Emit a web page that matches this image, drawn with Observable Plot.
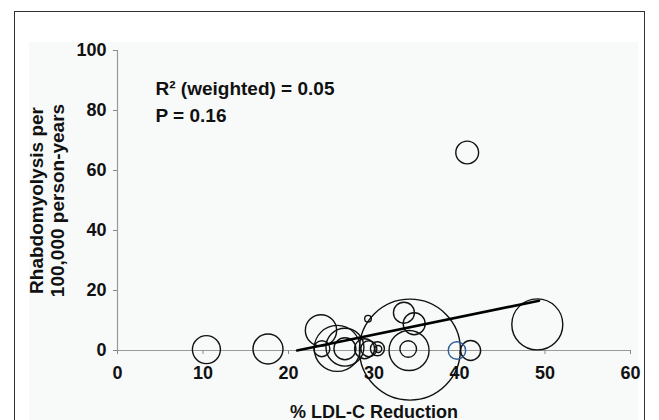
<!DOCTYPE html>
<html>
<head>
<meta charset="utf-8">
<script src="https://cdn.jsdelivr.net/npm/d3@7"></script>
<script src="https://cdn.jsdelivr.net/npm/@observablehq/plot@0.6"></script>
<style>
  html, body { margin: 0; padding: 0; background: #fff; }
  #wrap { position: relative; width: 659px; height: 420px; overflow: hidden; font-family: "Liberation Sans", Arial, sans-serif; }
  #border { position: absolute; left: 14px; top: 11px; width: 631px; height: 430px; border: 1px solid #333; box-sizing: border-box; }
  #tint { position: absolute; left: 29px; top: 42px; width: 609px; height: 400px; background: #f8fafa; }
  #chart { position: absolute; left: 0; top: 0; }
  #chart g[aria-label="x-axis tick label"], #chart g[aria-label="y-axis tick label"] { font-size: 18px !important; }
</style>
</head>
<body>
<div id="wrap"><div id="tint"></div><div id="border"></div><div id="chart"></div></div>
<script>
// % LDL-C reduction per study
const ldlReduction = [10.4, 17.6, 23.8, 23.9, 25.7, 26.6, 26.6, 28.9, 29.4, 30.4, 30.5, 29.3, 34.2, 34.1, 34.0, 33.5, 34.7, 39.7, 41.3, 49.1, 40.9];
// Rhabdomyolysis per 100,000 person-years
const rhabdoRate = [0.3, 0.5, 6.7, 0.6, 0.7, 1.1, 0.6, 0.6, 0.6, 0.6, 0.5, 10.6, 0.3, 0, 0.5, 12.6, 8.9, 0, 0, 8.7, 66];
// Relative study weight (bubble area)
const studyWeight = [196, 225, 245, 64, 530, 360, 121, 100, 64, 49, 12, 11, 2550, 400, 69, 110, 121, 76, 100, 650, 130];
// Study group (one study highlighted in blue)
const group = ["s","s","s","s","s","s","s","s","s","s","s","s","s","s","s","s","s","h","s","s","s"];
// Weighted regression line end points
const fitX = [21.0, 49.3];
const fitY = [0.0, 16.6];
const xTicks = [0, 10, 20, 30, 40, 50, 60];
const yTicks = [0, 20, 40, 60, 80, 100];

const studies = ldlReduction.map((x, i) => ({x, y: rhabdoRate[i], w: studyWeight[i], g: group[i]}));
const fit = fitX.map((x, i) => ({x, y: fitY[i]}));

const font = '"Liberation Sans", Arial, sans-serif';
const chart = Plot.plot({
  width: 659,
  height: 420,
  marginLeft: 117,
  marginRight: 29,
  marginTop: 50,
  marginBottom: 70,
  style: {fontFamily: font, fontWeight: "bold", fontSize: "18px", background: "transparent", overflow: "visible"},
  x: {domain: [0, 60]},
  y: {domain: [0, 100]},
  r: {type: "sqrt", domain: [0, 2500], range: [0, 50]},
  color: {domain: ["s", "h"], range: ["#111", "#2e5c9a"]},
  marks: [
    Plot.ruleY([0], {stroke: "#999", strokeWidth: 1.2}),
    Plot.ruleX([0], {stroke: "#999", strokeWidth: 1.2}),
    Plot.axisX({ticks: xTicks, tickSize: 4, tickPadding: 12, stroke: "#888", fontSize: 18, fill: "#111", label: null, tickFormat: d => d}),
    Plot.axisY({ticks: yTicks, tickSize: 4, tickPadding: 7, stroke: "#888", fontSize: 18, fill: "#111", label: null, tickFormat: d => d}),
    Plot.dot(studies, {x: "x", y: "y", r: "w", stroke: "g", fill: "none", strokeWidth: 1.4}),
    Plot.line(fit, {x: "x", y: "y", stroke: "#000", strokeWidth: 2.6}),
    Plot.text(["R² (weighted) = 0.05\nP = 0.16"], {frameAnchor: "top-left", dx: 38, dy: 26, fontSize: 19, fontWeight: "bold", fill: "#111", lineHeight: 1.4, textAnchor: "start", lineAnchor: "top"}),
    Plot.text(["Rhabdomyolysis per\n100,000 person-years"], {frameAnchor: "left", dx: -71, rotate: -90, textAnchor: "middle", lineAnchor: "middle", fontSize: 19, fontWeight: "bold", fill: "#111", lineHeight: 1.12}),
    Plot.text(["% LDL-C Reduction"], {frameAnchor: "bottom", dy: 67, textAnchor: "middle", lineAnchor: "bottom", fontSize: 18, fontWeight: "bold", fill: "#111"})
  ]
});
document.getElementById("chart").appendChild(chart);
</script>
</body>
</html>
